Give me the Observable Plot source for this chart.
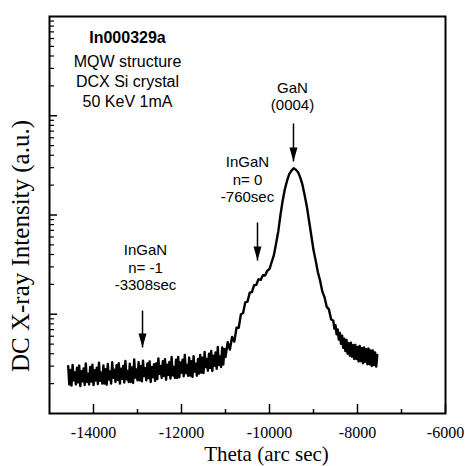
<!DOCTYPE html>
<html><head><meta charset="utf-8">
<script src="https://cdn.jsdelivr.net/npm/d3@7"></script>
<script src="https://cdn.jsdelivr.net/npm/@observablehq/plot@0.6"></script>
<style>body{margin:0;background:#fff}</style>
</head><body><div id="chart"></div>
<script>
const thetaArcSec = [
-14575,-14550,-14525,-14500,-14475,-14450,-14425,-14400,-14375,-14350,-14325,-14300,-14275,-14250,-14225,-14200,-14175,-14150,-14125,-14100,
-14075,-14050,-14025,-14000,-13975,-13950,-13925,-13900,-13875,-13850,-13825,-13800,-13775,-13750,-13725,-13700,-13675,-13650,-13625,-13600,
-13575,-13550,-13525,-13500,-13475,-13450,-13425,-13400,-13375,-13350,-13325,-13300,-13275,-13250,-13225,-13200,-13175,-13150,-13125,-13100,
-13075,-13050,-13025,-13000,-12975,-12950,-12925,-12900,-12875,-12850,-12825,-12800,-12775,-12750,-12725,-12700,-12675,-12650,-12625,-12600,
-12575,-12550,-12525,-12500,-12475,-12450,-12425,-12400,-12375,-12350,-12325,-12300,-12275,-12250,-12225,-12200,-12175,-12150,-12125,-12100,
-12075,-12050,-12025,-12000,-11975,-11950,-11925,-11900,-11875,-11850,-11825,-11800,-11775,-11750,-11725,-11700,-11675,-11650,-11625,-11600,
-11575,-11550,-11525,-11500,-11475,-11450,-11425,-11400,-11375,-11350,-11325,-11300,-11275,-11250,-11225,-11200,-11175,-11150,-11125,-11100,
-11075,-11050,-11025,
-11000,-10950,-10900,-10850,-10800,-10750,-10700,-10650,-10600,
-10550,-10500,-10450,-10400,-10350,-10300,-10250,-10200,-10150,-10100,
-10050,-10000,-9950,-9900,-9850,-9800,-9750,-9700,-9650,-9600,
-9550,-9500,-9450,-9400,-9350,-9300,-9250,-9200,-9150,-9100,
-9050,-9000,-8950,-8900,-8850,-8800,-8750,-8700,-8650,-8600,
-8550,
-8525,-8500,-8475,-8450,-8425,-8400,-8375,-8350,-8325,-8300,-8275,-8250,-8225,-8200,-8175,-8150,-8125,-8100,-8075,-8050,
-8025,-8000,-7975,-7950,-7925,-7900,-7875,-7850,-7825,-7800,-7775,-7750,-7725,-7700,-7675,-7650,-7625,-7600,-7575,-7550];
const intensity = [
2.99,1.96,2.74,1.91,3.09,2.16,2.60,1.96,2.89,2.06,3.04,1.89,2.67,2.11,2.84,1.94,3.19,2.08,2.52,1.96,
2.95,2.10,3.10,1.93,2.73,2.15,2.90,1.98,3.25,2.13,2.58,2.00,3.05,2.00,2.80,1.95,3.15,2.20,2.65,2.00,
3.28,2.29,2.76,2.08,3.07,2.18,3.22,2.00,2.83,2.24,3.02,2.05,3.38,2.21,2.68,2.08,3.17,2.08,2.91,2.03,
3.51,2.30,2.78,2.16,3.29,2.16,3.02,2.11,3.40,2.38,2.86,2.16,3.19,2.27,3.35,2.08,2.94,2.32,3.13,2.13,
3.19,2.22,3.59,2.51,3.02,2.28,3.36,2.39,3.53,2.19,3.11,2.45,3.31,2.25,3.71,2.42,2.94,2.28,3.48,2.28,
3.72,2.31,3.27,2.58,3.48,2.37,3.90,2.55,3.09,2.40,3.66,2.40,3.36,2.34,3.78,2.64,3.18,2.40,3.54,2.52,
3.90,2.58,3.64,2.55,4.16,2.93,3.55,2.70,4.01,2.88,4.28,2.68,3.82,3.03,4.12,2.82,4.68,3.08,3.76,2.94,
4.64,3.12,4.48,
3.71,5.24,4.41,5.91,5.30,7.30,7.31,9.98,10.3,
13.2,13.4,16.5,16.7,19.6,19.8,22.5,22.2,24.7,24.6,
27.5,28.5,33.6,39.4,51.8,68.7,101,140,183,222,
259,280,296,286,270,238,201,157,121,86.5,
62.2,44.3,34.7,26.5,21.8,17.0,14.9,11.9,11.2,8.9,
8.6,
7.13,7.75,6.29,7.04,5.55,6.48,5.03,6.08,4.58,5.66,4.26,5.51,4.02,5.12,3.82,5.17,3.73,4.87,3.54,4.92,
3.54,4.68,3.34,4.78,3.36,4.57,3.21,4.63,3.31,4.45,3.14,4.51,3.13,4.32,3.01,4.32,3.07,4.13,2.97,3.89];

const xDomain = [-15000, -6000];
const yDomain = [1, 10000];
const xTickLabels = [-14000, -12000, -10000, -8000, -6000];
const xMinorTicks = [-13000, -11000, -9000, -7000];
const yMajorTicks = [10, 100, 1000];
const yMinorTicks = [2,3,4,5,6,7,8,9,20,30,40,50,60,70,80,90,200,300,400,500,600,700,800,900,2000,3000,4000,5000,6000,7000,8000,9000];

const annotationText = ["InGaN\nn= -1\n-3308sec", "InGaN\nn= 0\n-760sec", "GaN\n(0004)"];
const annotationTheta = [-12818, -10500, -9477];
const annotationTop = [52.5, 403, 2270];
const arrowTheta = [-12886, -10273, -9455];
const arrowFrom = [10.9, 84, 836];
const arrowTo = [4.62, 34.8, 346];

const sampleTitle = "In000329a";
const sampleInfo = ["MQW structure", "DCX Si crystal", "50 KeV 1mA"];
const xLabel = "Theta (arc sec)";
const yLabel = "DC X-ray Intensity (a.u.)";

const W = 465, H = 466, mL = 49, mR = 20, mT = 16, mB = 53;
const fw = W - mL - mR, fh = H - mT - mB;
const arrowHead = {draw(ctx) { ctx.moveTo(0, 0); ctx.lineTo(-4, -14); ctx.lineTo(4, -14); ctx.closePath(); }};

const chart = Plot.plot({
  width: W, height: H,
  marginLeft: mL, marginRight: mR, marginTop: mT, marginBottom: mB,
  style: {fontFamily: "Liberation Serif", fontSize: "16px", background: "white", color: "black"},
  x: {domain: xDomain, axis: null},
  y: {type: "log", domain: yDomain, axis: null},
  marks: [
    Plot.ruleX(xTickLabels, {insetTop: fh - 9, strokeWidth: 1.5}),
    Plot.ruleX(xMinorTicks, {insetTop: fh - 4, strokeWidth: 1.5}),
    Plot.ruleY(yMajorTicks, {insetRight: fw - 8, strokeWidth: 1.5}),
    Plot.ruleY(yMinorTicks, {insetRight: fw - 5, strokeWidth: 1.2}),
    Plot.text(xTickLabels, {x: d => d, frameAnchor: "bottom", lineAnchor: "top", textAnchor: "middle", dy: 13, text: d => String(d), fontSize: 16, fontFamily: "Liberation Serif", fill: "black"}),
    Plot.line(intensity, {x: thetaArcSec, y: intensity, stroke: "black", strokeWidth: 2.4, strokeLinejoin: "round"}),
    Plot.link(arrowTheta, {x1: arrowTheta, y1: arrowFrom, x2: arrowTheta, y2: arrowTo, stroke: "black", strokeWidth: 1.5}),
    Plot.dot(arrowTheta, {x: arrowTheta, y: arrowTo, symbol: arrowHead, fill: "black", stroke: "none", r: 5}),
    Plot.text(annotationText, {x: annotationTheta, y: annotationTop, text: d => d, lineAnchor: "top", lineHeight: 1.17, fontSize: 15, fontFamily: "Liberation Sans", textAnchor: "middle", fill: "black"}),
    Plot.text([sampleTitle], {frameAnchor: "top-left", dx: 78, dy: 15.6, text: d => d, lineAnchor: "top", fontSize: 16, fontWeight: "bold", fontFamily: "Liberation Sans", textAnchor: "middle", fill: "black"}),
    Plot.text([sampleInfo.join("\n")], {frameAnchor: "top-left", dx: 78, dy: 35.6, text: d => d, lineAnchor: "top", lineHeight: 1.27, fontSize: 16, fontFamily: "Liberation Sans", textAnchor: "middle", fill: "black"}),
    Plot.text([xLabel], {frameAnchor: "bottom", dx: 19, dy: 41, text: d => d, textAnchor: "middle", lineAnchor: "middle", fontSize: 21, fontFamily: "Liberation Serif", fill: "black"}),
    Plot.text([yLabel], {frameAnchor: "left", rotate: -90, dx: -29, dy: 31, text: d => d, textAnchor: "middle", lineAnchor: "middle", fontSize: 25, fontFamily: "Liberation Serif", fill: "black"}),
    Plot.frame({stroke: "black", strokeWidth: 2})
  ]
});
document.getElementById("chart").appendChild(chart);
</script>
</body></html>
